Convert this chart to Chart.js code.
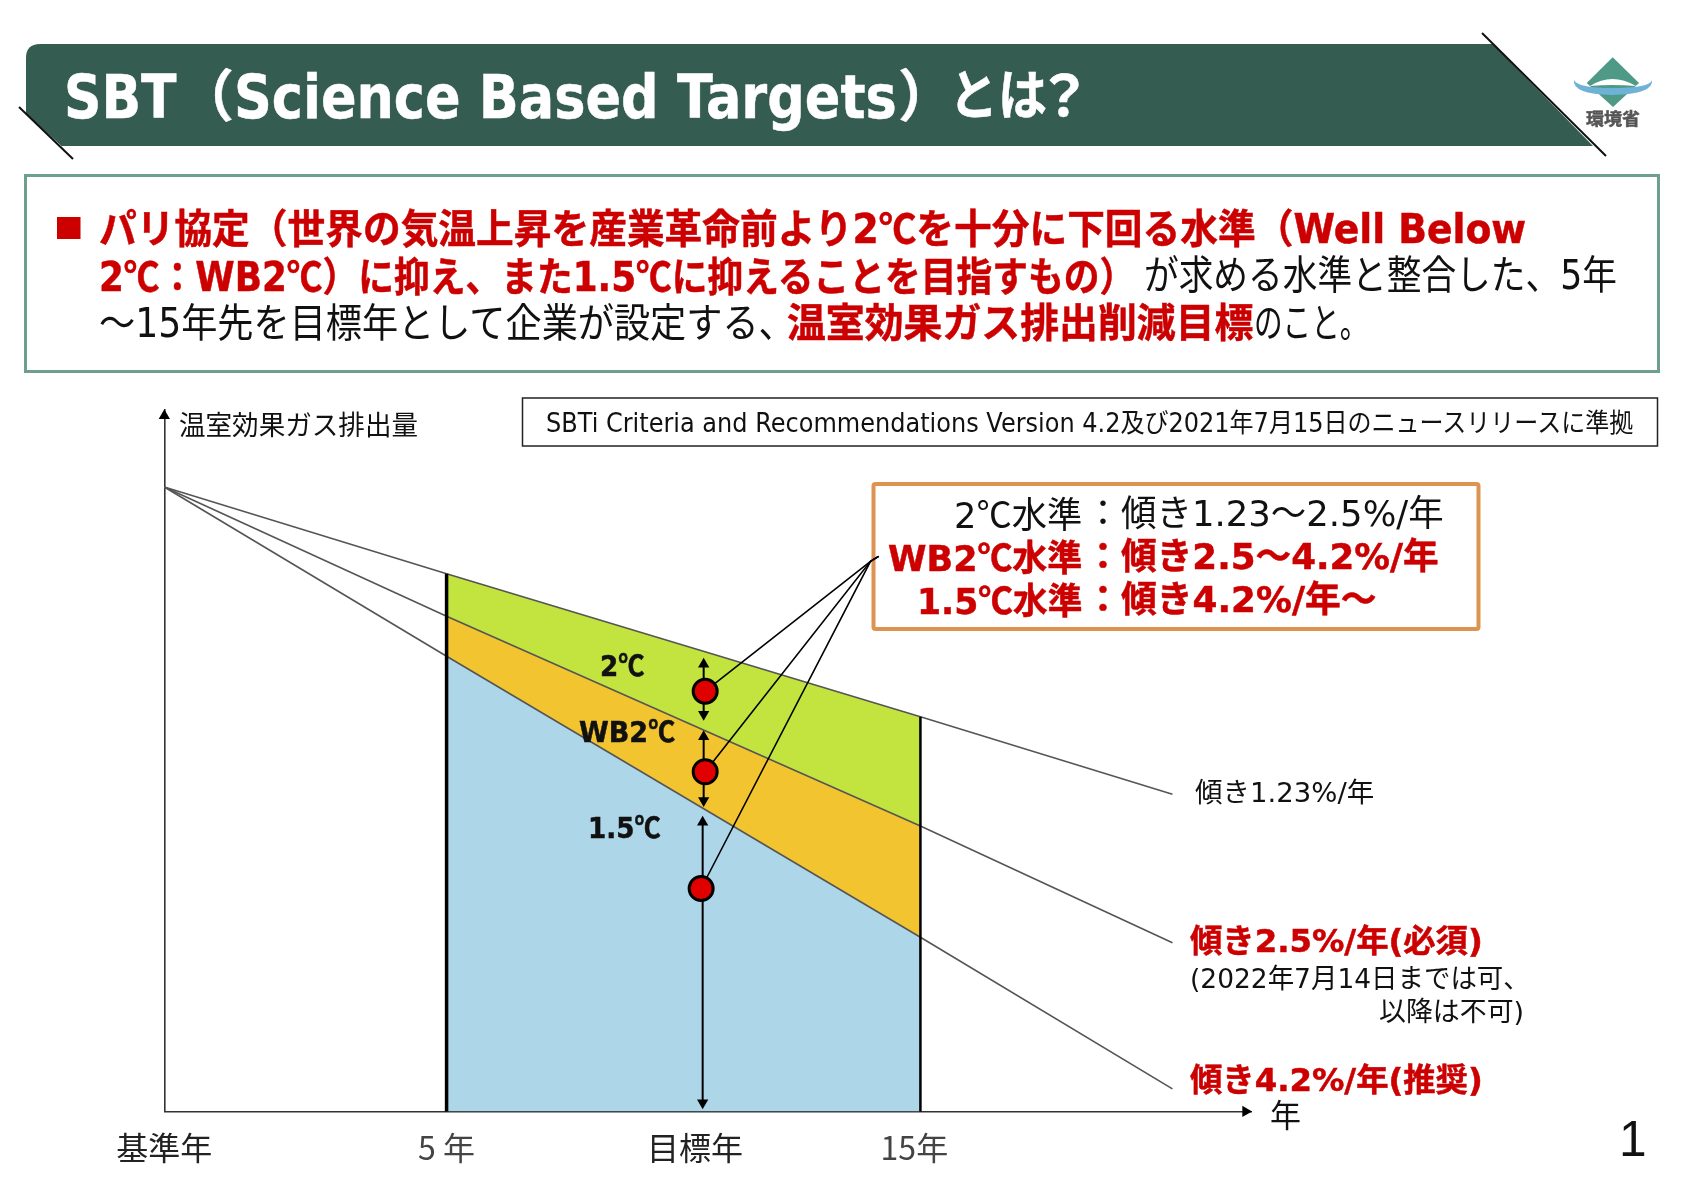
<!DOCTYPE html>
<html lang="ja"><head><meta charset="utf-8">
<script src="https://cdn.jsdelivr.net/npm/chart.js@4"></script>
<style>
html,body{margin:0;padding:0;background:#fff;width:1684px;height:1190px;overflow:hidden}
#slide{position:absolute;left:0;top:0;width:1684px;height:1190px}
svg,canvas{position:absolute;left:0;top:0}
.t{position:absolute;white-space:nowrap;transform-origin:left center;font-family:"DejaVu Sans","Noto Sans CJK JP",sans-serif;line-height:1}
.c{font-family:"Noto Sans CJK JP",sans-serif}
</style></head><body>
<div id="slide">
<svg width="1684" height="1190" viewBox="0 0 1684 1190">
  <path d="M40,44 L1493,44 L1593,146 L61.5,146 L26,113.7 L26,58 Q26,44 40,44 Z" fill="#355c50"/>
  <line x1="19" y1="107" x2="73" y2="159" stroke="#111" stroke-width="2"/>
  <line x1="1482" y1="33" x2="1606" y2="156" stroke="#111" stroke-width="2"/>
  <rect x="25.5" y="175.5" width="1633" height="196" fill="#fff" stroke="#6d9e8e" stroke-width="3"/>
  <rect x="57" y="217" width="23.5" height="22" fill="#cc0000"/>
  <rect x="522.5" y="398" width="1135" height="48" fill="#fff" stroke="#222" stroke-width="1.5"/>
  <rect x="873.5" y="484" width="605" height="145" rx="2" fill="#fff" stroke="#dd9450" stroke-width="4"/>
  <path d="M1612.7,57.3 L1639,83 L1613,107 L1586.7,83 Z" fill="#4f9a86"/>
  <path d="M1590,86 Q1612,72 1636,86 Q1612,84 1590,86 Z" fill="#fff"/>
  <path d="M1574,80 Q1572,94 1612,95 Q1654,94 1652,80 Q1650,88 1612,88 Q1578,88 1574,80 Z" fill="#6fb2d8"/>
</svg>
<canvas id="c" width="1684" height="1190"></canvas>
</div>
<script>
// ---- data (x: schematic years after base year, y: emissions index, base = 100) ----
const xTickValues = [0, 5.6, 10.53, 14.88];
const xTickLabels = ['基準年', '5 年', '目標年', '15年'];
const xTickColors = ['#222', '#444', '#222', '#444'];
const lineYears   = [0, 5.6, 15, 20];
const slope123    = [100, 86.1, 63.2, 50.8];
const slope25     = [100, 79.3, 45.7, 27.0];
const slope42     = [100, 72.9, 27.9, 3.6];
const bandYears   = [5.6, 15];
const bandBlue    = [72.9, 27.9];
const bandOrange  = [79.3, 45.7];
const bandGreen   = [86.1, 63.2];
const wall5       = [86.1, 0];
const wall15      = [63.2, 0];
const dotX        = [10.73, 10.73, 10.65];
const dotY        = [67.3, 54.4, 35.7];
const leaderX     = [14.01, 14.17];
const leaderY     = [88.1, 88.9];
const arrow2C     = [71.6, 63.6];
const arrowWB     = [60.0, 49.8];
const arrow15     = [46.3, 1.4];
const arrowX      = [10.70, 10.70, 10.68];

const pts = (xs, ys) => xs.map((x, i) => ({x, y: ys[i]}));
const line = (data, extra) => Object.assign({data, fill:false, pointRadius:0, tension:0, clip:false,
  borderColor:'#555', borderWidth:1.6, order:5}, extra);
const arrow = (x, ys) => line(pts([x, x], ys), {borderColor:'#000', borderWidth:2, order:2,
  pointRadius:6.5, pointStyle:'triangle', pointRotation:[0,180], pointBackgroundColor:'#000', pointBorderColor:'#000', pointBorderWidth:0});

new Chart(document.getElementById('c'), {
  type:'line',
  data:{datasets:[
    line(pts(bandYears, bandBlue),   {fill:'origin', backgroundColor:'#aed6e9', borderWidth:0, order:10}),
    line(pts(bandYears, bandOrange), {fill:{target:0}, backgroundColor:'#f2c530', borderWidth:0, order:10}),
    line(pts(bandYears, bandGreen),  {fill:{target:1}, backgroundColor:'#c3e33f', borderWidth:0, order:10}),
    line(pts(lineYears, slope123)),
    line(pts(lineYears, slope25)),
    line(pts(lineYears, slope42)),
    line(pts([5.6,5.6], wall5),  {borderColor:'#000', borderWidth:3.5, order:4}),
    line(pts([15,15],  wall15), {borderColor:'#000', borderWidth:2.5, order:4}),
    ...dotX.map((x,i) => line(pts([x, ...leaderX],[dotY[i], ...leaderY]), {borderColor:'#000', borderWidth:1.6, order:3})),
    arrow(arrowX[0], arrow2C), arrow(arrowX[1], arrowWB), arrow(arrowX[2], arrow15),
    line(pts([0, 21.45],[111.4, 0]), {showLine:false, order:2, pointRadius:6.5, pointStyle:'triangle',
      pointRotation:[0,90], pointBackgroundColor:'#000', pointBorderWidth:0}),
    line(pts(dotX, dotY), {showLine:false, order:1, pointRadius:12, pointStyle:'circle',
      pointBackgroundColor:'#e00000', pointBorderColor:'#000', pointBorderWidth:3})
  ]},
  options:{
    responsive:false, animation:false, devicePixelRatio:1,
    layout:{padding:{left:164.3, right:1684-1251.6, top:409.4, bottom:0}},
    plugins:{legend:{display:false}, tooltip:{enabled:false}, title:{display:false}},
    scales:{
      x:{type:'linear', min:0, max:21.57, offset:false,
        grid:{display:false}, border:{display:true, color:'#333', width:1.6},
        afterBuildTicks:s=>{s.ticks = xTickValues.map(v=>({value:v}));},
        afterFit:s=>{s.paddingLeft=0; s.paddingRight=0; s.height=1190-1111.4;},
        ticks:{autoSkip:false, maxRotation:0, minRotation:0, padding:9,
          font:{family:'"Noto Sans CJK JP"', size:32},
          color:c=>xTickColors[c.index],
          callback:(v,i)=>xTickLabels[i]}},
      y:{type:'linear', min:0, max:112.43,
        grid:{display:false}, border:{display:true, color:'#333', width:1.6},
        ticks:{display:false}, afterFit:s=>{s.width=0;}}
    }
  }
});

// ---- slide text (real text; each run is fitted to its measured span) ----
const R='#cc0000', K='#111', W='#fff';
const texts = [
 ['SBT',64.4,177,97,60,700,W],
 ['（',178,234,97,56,700,W],
 ['Science Based Targets',234,897,97,60,700,W],
 ['）',898,954,97,56,700,W],
 ['とは',949,1047,97,54,700,W],
 ['？',1036,1092,97,56,700,W],
 ['パリ協定（世界の気温上昇を産業革命前より2℃を十分に下回る水準（Well Below',98.8,1526,226.5,40,700,R],
 ['2℃：WB2℃）に抑え、また1.5℃に抑えることを目指すもの）',98.8,1135,275,40,700,R],
 ['が求める水準と整合した、5年',1144,1616.5,275,40,400,K],
 ['～15年先を目標年として企業が設定する、',99,795,323,40,400,K],
 ['温室効果ガス排出削減目標',787,1253.5,323,40,700,R],
 ['のこと。',1253.5,1368,323,40,400,K],
 ['温室効果ガス排出量',179,418,424.7,27,400,K],
 ['SBTi Criteria and Recommendations Version 4.2及び2021年7月15日のニュースリリースに準拠',546.4,1633.5,423,26,400,K],
 ['2℃水準',953.7,1082,514,36,400,K],
 ['：',1085,1121,514,36,400,K],
 ['傾き1.23～2.5%/年',1121,1444,514,36,400,K],
 ['WB2℃水準',888,1082,557,36,700,R],
 ['：',1085,1121,557,36,700,R],
 ['傾き2.5～4.2%/年',1121,1439,557,36,700,R],
 ['1.5℃水準',916.5,1082,600,36,700,R],
 ['：',1085,1121,600,36,700,R],
 ['傾き4.2%/年～',1121,1376.6,600,36,700,R],
 ['2℃',600,645,664.5,28,700,K],
 ['WB2℃',578.6,675,731,28,700,K],
 ['1.5℃',588,661,827,28,700,K],
 ['傾き1.23%/年',1194.7,1374,791.5,27,400,K],
 ['傾き2.5%/年(必須)',1190,1483,941,32,700,R],
 ['(2022年7月14日までは可、',1190,1530,978,27,400,K],
 ['以降は不可)',1379,1524.5,1011,27,400,K],
 ['傾き4.2%/年(推奨)',1190,1483,1080,32,700,R],
 ['年',1270,1301,1115.5,32,400,K],
 ['1',1619,1646.8,1139,50,400,K],
 ['環境省',1586,1640,119,17,700,'#555']
];
const host = document.getElementById('slide');
texts.forEach(([s,x,r,cy,size,weight,color])=>{
  const e=document.createElement('span'); e.className='t';
  s.split('℃').forEach((part,i)=>{
    if(i){const d=document.createElement('span'); d.className='c'; d.textContent='℃'; e.appendChild(d);}
    e.appendChild(document.createTextNode(part));
  });
  e.style.cssText=`left:${x}px;top:${cy}px;font-size:${size}px;font-weight:${weight};color:${color}`;
  if(s==='1') e.style.fontFamily='"Liberation Sans",sans-serif';
  if(weight===700) e.style.webkitTextStroke='0.5px '+color;
  host.appendChild(e);
  const k=(r-x)/e.offsetWidth;
  e.style.transform=`translateY(-50%) scaleX(${k})`;
});
</script>
</body></html>
